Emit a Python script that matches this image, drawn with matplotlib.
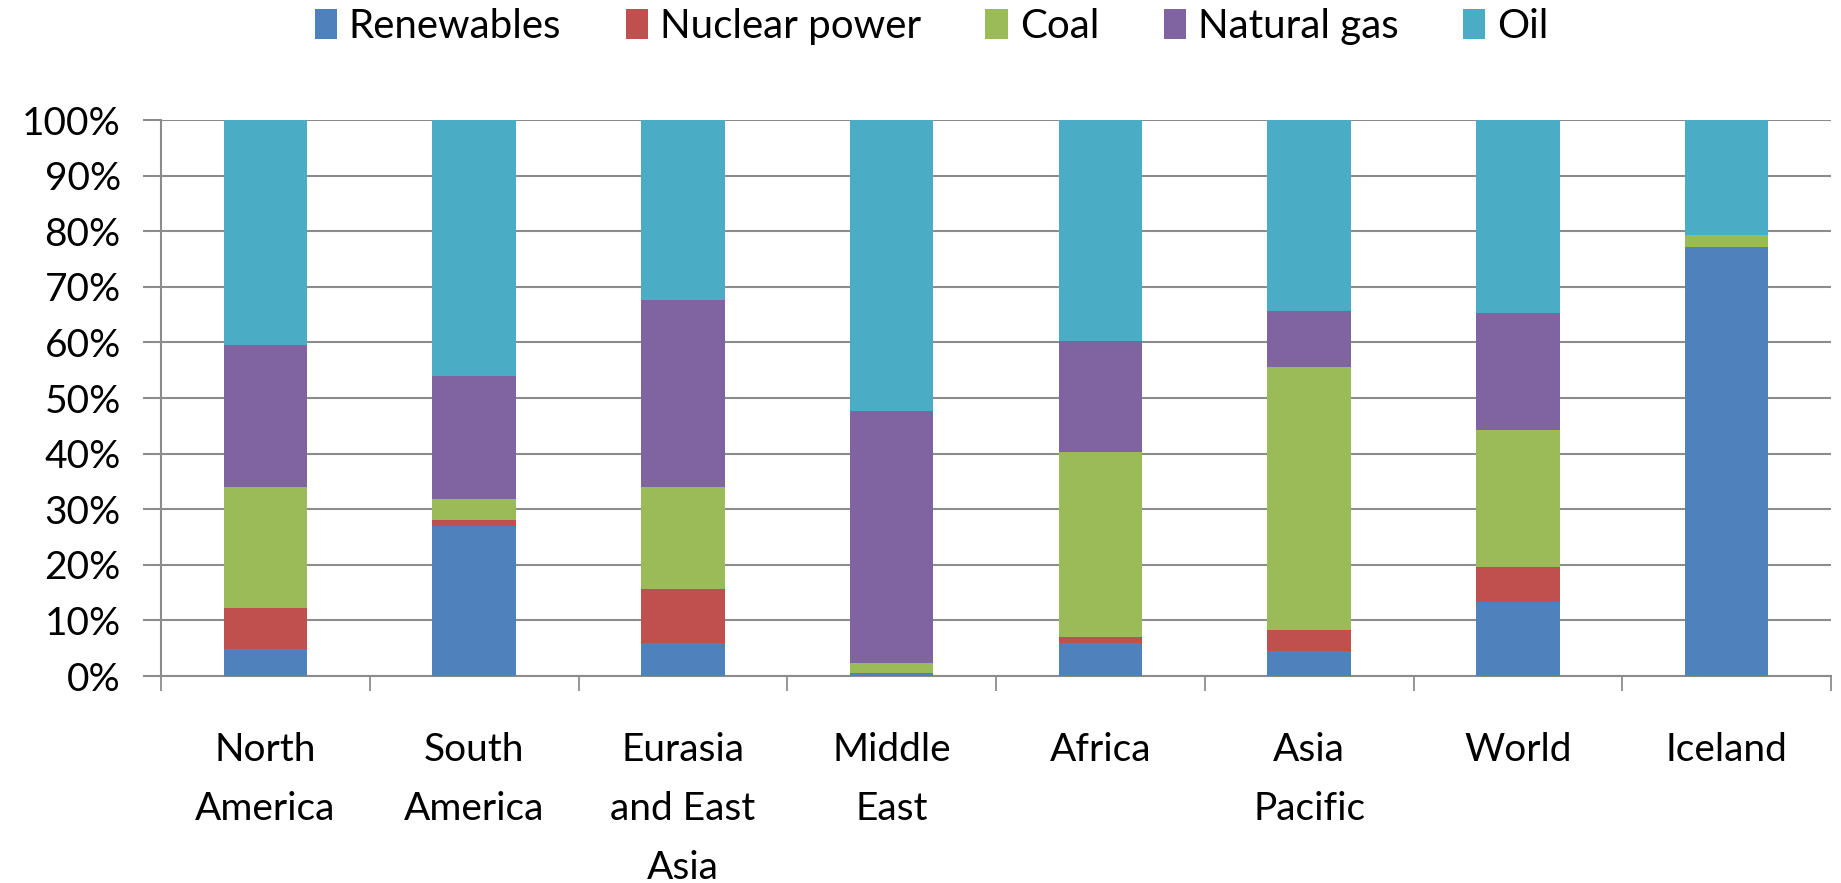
import numpy as np
import matplotlib.pyplot as plt
from matplotlib.ticker import FixedLocator, PercentFormatter

plt.rcParams['font.family'] = ['Lato', 'DejaVu Sans']

regions = ["North\nAmerica", "South\nAmerica", "Eurasia\nand East\nAsia", "Middle\nEast",
           "Africa", "Asia\nPacific", "World", "Iceland"]
series_names = ["Renewables", "Nuclear power", "Coal", "Natural gas", "Oil"]

renewables = [4.9, 26.9, 6.0, 0.5, 6.0, 4.5, 13.4, 77.2]
nuclear = [7.3, 1.2, 9.6, 0.0, 1.1, 3.7, 6.2, 0.0]
coal = [21.8, 3.7, 18.4, 1.8, 33.2, 47.3, 24.7, 2.1]
natural_gas = [25.5, 22.2, 33.6, 45.4, 19.9, 10.2, 21.0, 0.0]
oil = [40.5, 46.0, 32.4, 52.3, 39.8, 34.3, 34.7, 20.7]

colors = ["#4F81BD", "#C0504D", "#9BBB59", "#8064A2", "#4BACC6"]

fig = plt.figure(figsize=(18.41, 8.83), dpi=100)
ax = fig.add_axes([0.0875, 0.2344, 0.9071, 0.6296])

x = np.arange(len(regions))
bottom = np.zeros(len(regions))
for name, vals, c in zip(series_names, [renewables, nuclear, coal, natural_gas, oil], colors):
    vals = np.array(vals)
    ax.bar(x, vals, 0.4, bottom=bottom, color=c, label=name, zorder=3)
    bottom += vals

ax.set_xlim(-0.5, len(regions) - 0.5)
ax.set_ylim(0, 100)
ax.yaxis.set_major_locator(FixedLocator(np.arange(0, 101, 10)))
ax.yaxis.set_major_formatter(PercentFormatter(decimals=0))
ax.grid(axis='y', color='#8c8c8c', linewidth=1.5, zorder=0)

ax.set_xticks(x)
ax.set_xticklabels(regions, linespacing=1.8, va='top')
ax.set_xticks(np.arange(-0.5, len(regions)), minor=True)
ax.tick_params(axis='x', which='major', length=0, pad=40, labelsize=28)
ax.tick_params(axis='x', which='minor', length=11, width=1.3, color='#8c8c8c', direction='out')
ax.tick_params(axis='y', length=13, width=1.5, color='#8c8c8c', labelsize=28, pad=16)

for s in ['top', 'right']:
    ax.spines[s].set_visible(False)
ax.spines['left'].set_color('#8c8c8c')
ax.spines['bottom'].set_color('#8c8c8c')
ax.spines['left'].set_linewidth(1.5)
ax.spines['bottom'].set_linewidth(1.5)

handles, labels = ax.get_legend_handles_labels()
fig.legend(handles, labels, loc='center', bbox_to_anchor=(0.506, 0.97), ncol=5,
           frameon=False, fontsize=29, handlelength=0.55, handleheight=0.75,
           handletextpad=0.3, columnspacing=1.6)

fig.savefig("out.png", dpi=100)
